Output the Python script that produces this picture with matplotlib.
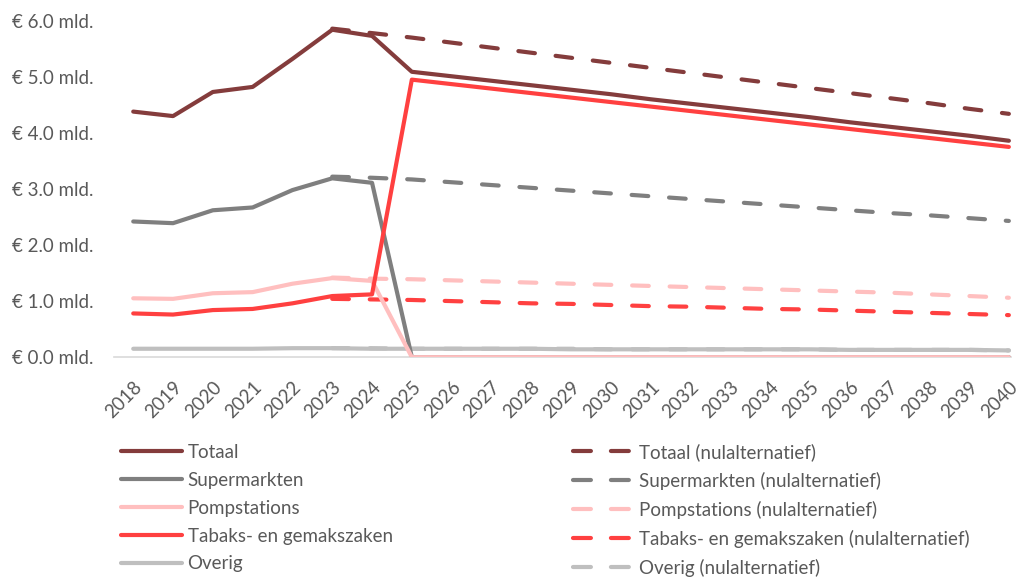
import matplotlib

matplotlib.use("Agg")
import matplotlib.pyplot as plt
from matplotlib.lines import Line2D
from matplotlib.ticker import FuncFormatter

plt.rcParams["font.family"] = ["Lato", "DejaVu Sans"]

years = [str(y) for y in range(2018, 2041)]

# solid lines (beleid), values in mld. euro
totaal = [4.38, 4.30, 4.73, 4.82, 5.32, 5.84, 5.73, 5.09, 5.01, 4.93, 4.85, 4.77, 4.69, 4.60, 4.52,
          4.44, 4.36, 4.28, 4.19, 4.11, 4.03, 3.95, 3.86]
supermarkten = [2.42, 2.39, 2.62, 2.67, 2.98, 3.19, 3.11, 0.0, 0.0, 0.0, 0.0, 0.0, 0.0, 0.0, 0.0,
                0.0, 0.0, 0.0, 0.0, 0.0, 0.0, 0.0, 0.0]
pompstations = [1.05, 1.04, 1.14, 1.16, 1.31, 1.41, 1.36, 0.0, 0.0, 0.0, 0.0, 0.0, 0.0, 0.0, 0.0,
                0.0, 0.0, 0.0, 0.0, 0.0, 0.0, 0.0, 0.0]
tabaks = [0.78, 0.76, 0.84, 0.86, 0.96, 1.09, 1.12, 4.95, 4.87, 4.79, 4.71, 4.63, 4.55, 4.47, 4.39,
          4.31, 4.23, 4.15, 4.07, 3.99, 3.91, 3.83, 3.75]
overig = [0.15, 0.15, 0.15, 0.15, 0.16, 0.16, 0.15, 0.15, 0.15, 0.15, 0.15, 0.14, 0.14, 0.14, 0.14,
          0.14, 0.14, 0.14, 0.13, 0.13, 0.13, 0.13, 0.12]

# dashed lines (nulalternatief), from 2023 onwards
totaal_null = [5.86, 5.78, 5.70, 5.61, 5.52, 5.43, 5.34, 5.25, 5.16, 5.07, 4.98, 4.89, 4.80, 4.71,
               4.62, 4.53, 4.43, 4.34]
supermarkten_null = [3.22, 3.20, 3.17, 3.12, 3.07, 3.02, 2.97, 2.92, 2.87, 2.82, 2.77, 2.72, 2.67,
                     2.62, 2.57, 2.53, 2.48, 2.43]
pompstations_null = [1.42, 1.40, 1.39, 1.37, 1.35, 1.33, 1.31, 1.29, 1.27, 1.25, 1.23, 1.21, 1.19,
                     1.17, 1.15, 1.12, 1.09, 1.06]
tabaks_null = [1.04, 1.03, 1.02, 1.00, 0.98, 0.96, 0.95, 0.93, 0.91, 0.90, 0.88, 0.86, 0.85, 0.83,
               0.81, 0.79, 0.77, 0.75]
overig_null = [0.16, 0.16, 0.15, 0.15, 0.15, 0.15, 0.15, 0.14, 0.14, 0.14, 0.14, 0.14, 0.14, 0.13,
               0.13, 0.13, 0.13, 0.12]

labels = ["Totaal", "Supermarkten", "Pompstations", "Tabaks- en gemakszaken", "Overig"]
colors = ["#843C3C", "#7F7F7F", "#FFBFBF", "#FF4040", "#BFBFBF"]
solid = [totaal, supermarkten, pompstations, tabaks, overig]
dashed = [totaal_null, supermarkten_null, pompstations_null, tabaks_null, overig_null]

fig = plt.figure(figsize=(10.19, 5.77), dpi=100)
ax = fig.add_axes([0.112, 0.381, 0.880, 0.583])

x_all = list(range(len(years)))
x_null = list(range(5, len(years)))
lw = 3.0
# draw order: overig first so others sit on top
for i in [4, 2, 3, 1, 0]:
    ax.plot(x_null, dashed[i], color=colors[i], lw=lw, dashes=(4.0, 5.0),
            dash_capstyle="round", zorder=2)
for i in [4, 1, 2, 3, 0]:
    ax.plot(x_all, solid[i], color=colors[i], lw=lw, solid_joinstyle="round",
            solid_capstyle="round", zorder=3)

hs = [Line2D([], [], color=c, lw=lw, solid_capstyle="round") for c in colors]
hd = [Line2D([], [], color=c, lw=lw, dashes=(4.3, 4.8), dash_capstyle="round") for c in colors]

ax.set_ylim(0, 6.0)
ax.set_xlim(-0.48, 22.05)
ax.set_yticks([0, 1, 2, 3, 4, 5, 6])
ax.yaxis.set_major_formatter(FuncFormatter(lambda v, p: f"€ {v:.1f} mld."))
ax.set_xticks(x_all)
ax.set_xticklabels(years, rotation=45, ha="right", rotation_mode="anchor")

for side in ["top", "right", "left"]:
    ax.spines[side].set_visible(False)
ax.spines["bottom"].set_color("#D9D9D9")
ax.spines["bottom"].set_linewidth(1.2)
ax.tick_params(axis="both", length=0, colors="#595959", labelsize=13.5)
ax.tick_params(axis="y", pad=15)
ax.tick_params(axis="x", pad=15)

leg = fig.legend(
    hs + hd,
    labels + [l + " (nulalternatief)" for l in labels],
    ncol=2,
    loc="upper left",
    bbox_to_anchor=(121 / 1019, 1 - 443 / 577),
    frameon=False,
    fontsize=13.5,
    handlelength=3.25,
    handletextpad=0.3,
    labelspacing=0.58,
    columnspacing=9.6,
    borderpad=0,
    borderaxespad=0,
)
for t in leg.get_texts():
    t.set_color("#595959")

fig.savefig("out.png", dpi=100)
